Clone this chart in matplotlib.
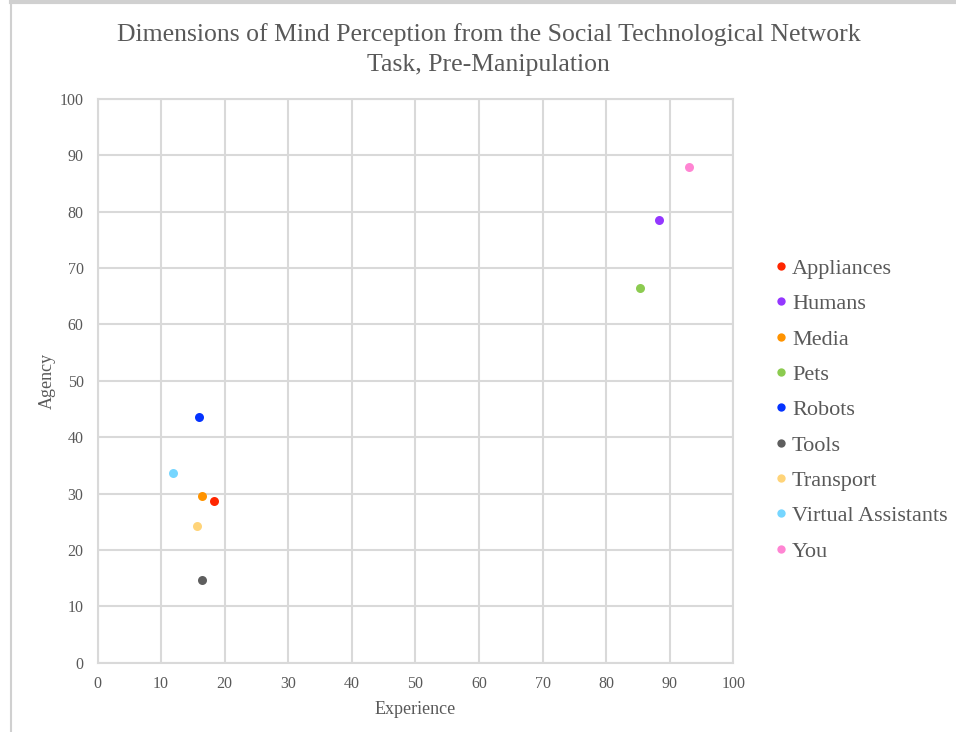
import matplotlib.pyplot as plt
from matplotlib.lines import Line2D

plt.rcParams['font.family'] = ['Liberation Serif', 'DejaVu Serif']

# mean ratings per category
categories = ['Appliances', 'Humans', 'Media', 'Pets', 'Robots', 'Tools',
              'Transport', 'Virtual Assistants', 'You']
experience = [18.4, 88.3, 16.5, 85.4, 16.0, 16.4, 15.7, 11.9, 93.0]
agency = [28.6, 78.5, 29.6, 66.4, 43.6, 14.6, 24.2, 33.7, 88.0]
colors = ['#FF2600', '#9437FF', '#FF9300', '#8CCB50', '#0433FF', '#5E5E5E',
          '#FFD479', '#76D6FF', '#FF85D3']

text_col = '#595959'
grid_col = '#D9D9D9'

fig = plt.figure(figsize=(9.56, 7.32), dpi=100)
ax = fig.add_axes([0.102, 0.0948, 0.665, 0.77])

for name, x, y, c in zip(categories, experience, agency, colors):
    ax.scatter(x, y, s=42, color=c, label=name, zorder=3, linewidths=0)

ax.set_xlim(0, 100)
ax.set_ylim(0, 100)
ax.set_xticks(range(0, 101, 10))
ax.set_yticks(range(0, 101, 10))
ax.grid(True, color=grid_col, linewidth=1.5)
ax.set_axisbelow(True)
for sp in ax.spines.values():
    sp.set_color(grid_col)
    sp.set_linewidth(1.5)
ax.tick_params(length=0, labelsize=11.5, labelcolor=text_col, pad=10)

ax.set_xlabel('Experience', fontsize=13, color=text_col, labelpad=6)
ax.set_ylabel('Agency', fontsize=13, color=text_col, labelpad=3)

fig.text(0.511, 0.932,
         'Dimensions of Mind Perception from the Social Technological Network\nTask, Pre-Manipulation',
         ha='center', va='center', fontsize=18.5, color=text_col, linespacing=1.45)

handles = [Line2D([], [], marker='o', linestyle='', markersize=6,
                  markerfacecolor=c, markeredgewidth=0) for c in colors]
fig.legend(handles, categories, loc='center left', bbox_to_anchor=(0.789, 0.440),
           frameon=False, fontsize=16, labelcolor=text_col, handlelength=0.6,
           handletextpad=0.2, labelspacing=0.665)

# outer frame lines
fig.add_artist(Line2D([11 / 956, 11 / 956], [0, 1 - 2 / 732], color='#D0D0D0',
                      linewidth=1.5, transform=fig.transFigure))
fig.add_artist(Line2D([11 / 956, 1], [1 - 2 / 732, 1 - 2 / 732], color='#D0D0D0',
                      linewidth=3, transform=fig.transFigure))

fig.savefig('out.png', dpi=100)
